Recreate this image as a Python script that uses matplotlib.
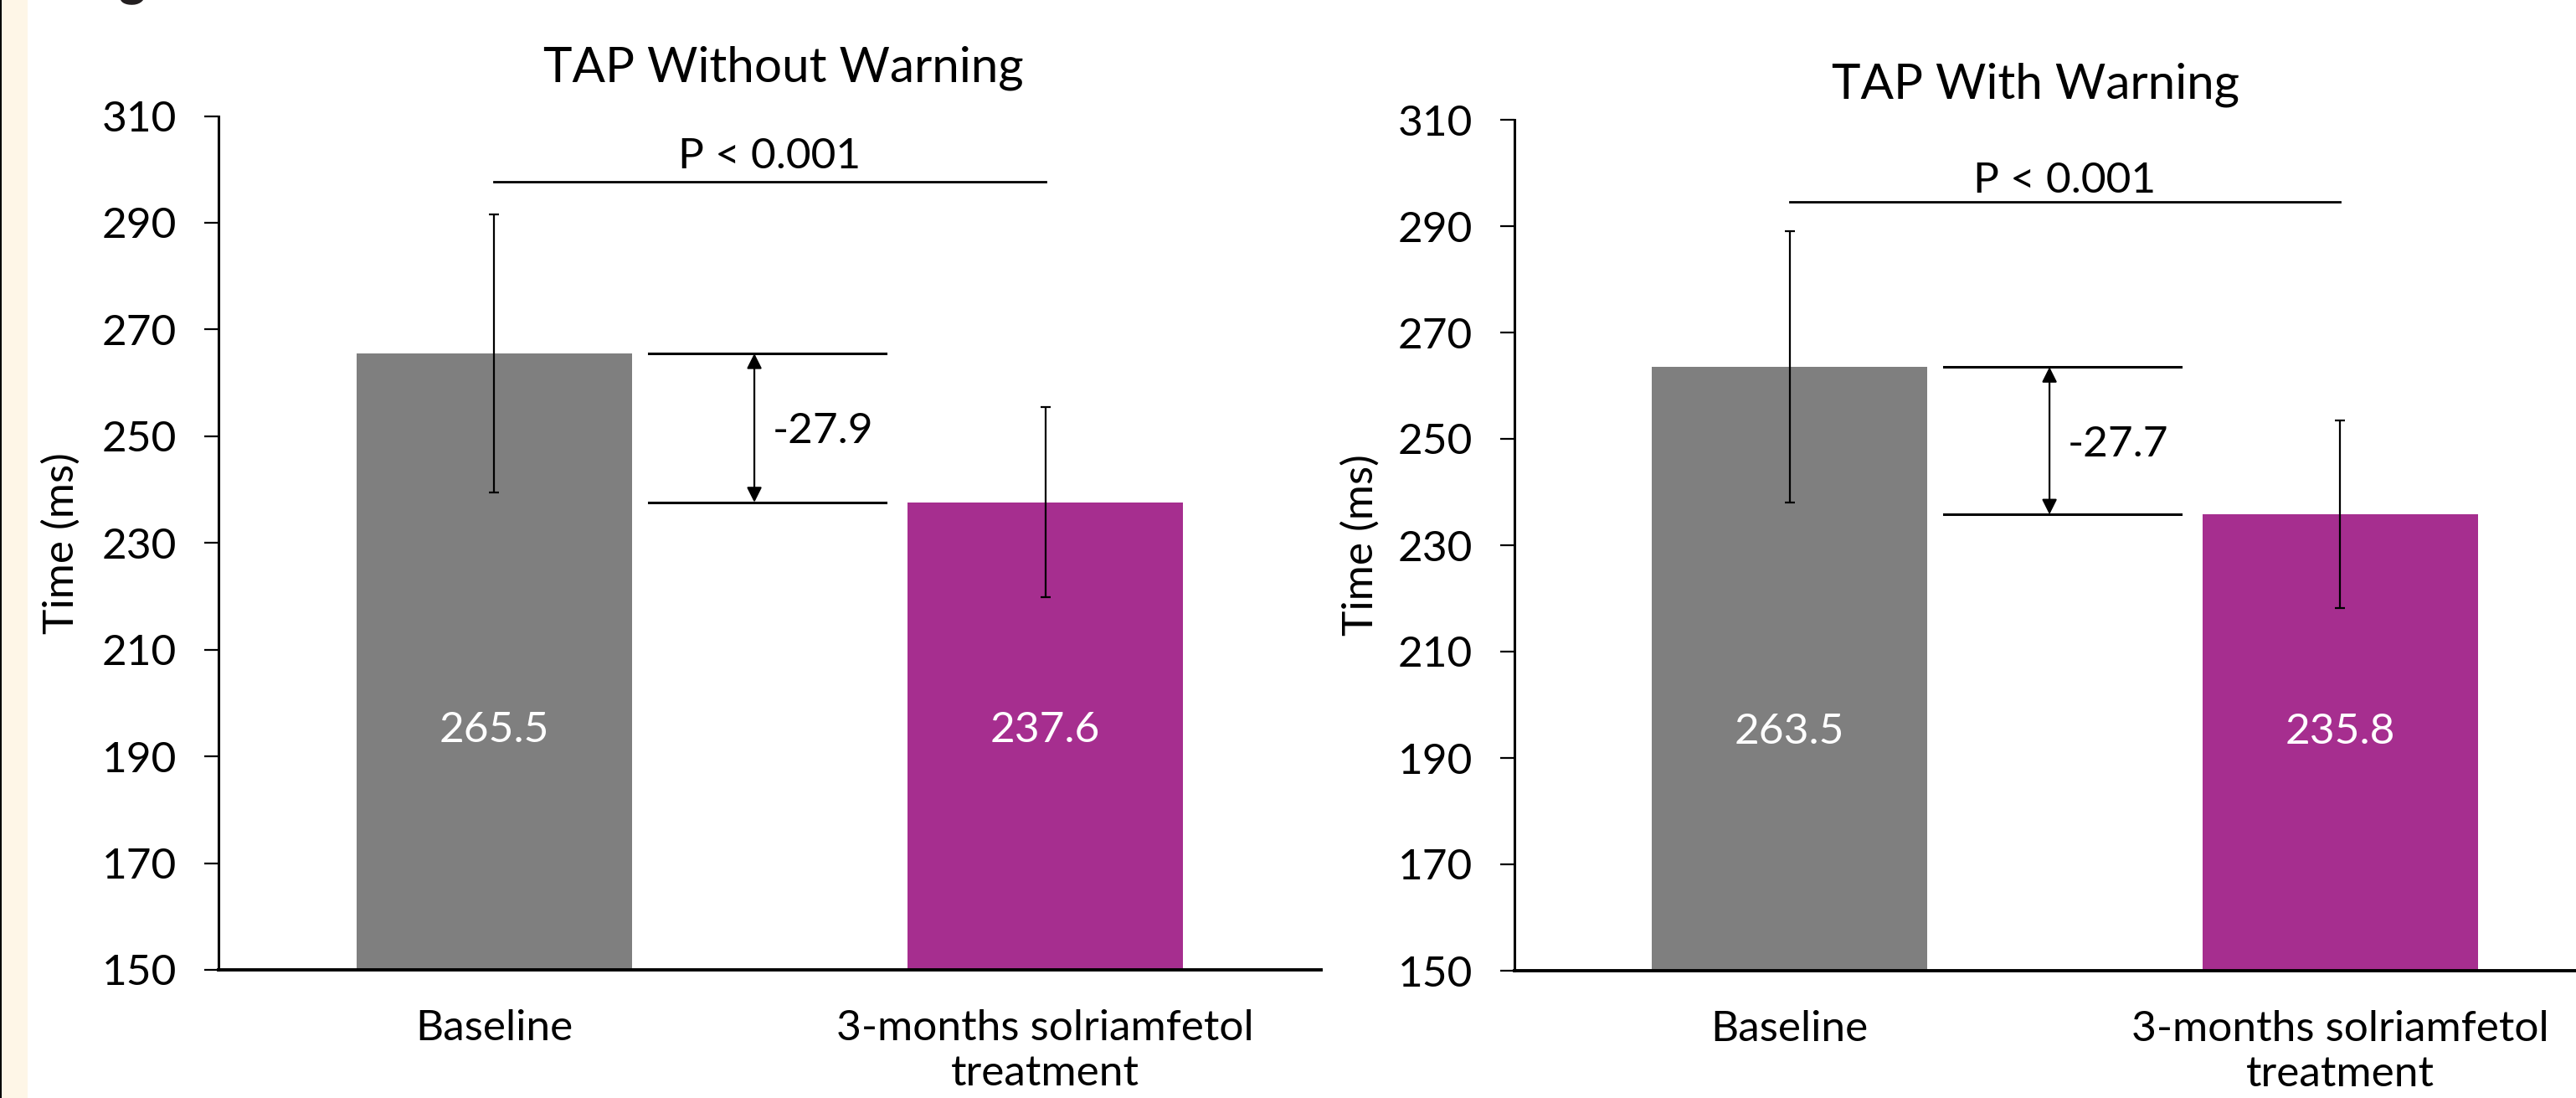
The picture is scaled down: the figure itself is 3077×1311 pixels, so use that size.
import matplotlib
matplotlib.use("Agg")
import matplotlib.pyplot as plt
from matplotlib.patches import Rectangle

# ---- data -------------------------------------------------------------
categories = ["Baseline", "3-months solriamfetol\ntreatment"]
panel_titles = ["TAP Without Warning", "TAP With Warning"]
means_without = [265.5, 237.6]
errors_without = [26.0, 17.8]
means_with = [263.5, 235.8]
errors_with = [25.5, 17.6]
differences = [-27.9, -27.7]
p_labels = ["P < 0.001", "P < 0.001"]
y_ticks = [150, 170, 190, 210, 230, 250, 270, 290, 310]
bar_colors = ["#7F7F7F", "#A62E8F"]

# ---- figure ------------------------------------------------------------
W, H = 3077, 1311
DPI = 100
plt.rcParams["font.family"] = ["Lato", "DejaVu Sans"]
fig = plt.figure(figsize=(W / DPI, H / DPI), dpi=DPI, facecolor="white")

# cream strip at the left edge of the page
fig.patches.append(Rectangle((0, 0), 33 / W, 1, transform=fig.transFigure,
                             facecolor="#FEF6E7", edgecolor="none", zorder=-2))
fig.patches.append(Rectangle((0, 0), 2 / W, 1, transform=fig.transFigure,
                             facecolor="black", edgecolor="none", zorder=-1))
fig.text(158 / W, 1 + 7 / H, "g", fontsize=44, fontweight="bold",
         color="#231F20", ha="center", va="baseline")


def px_axes(x0, x1, y_top, y_bottom):
    return [x0 / W, 1 - y_bottom / H, (x1 - x0) / W, (y_bottom - y_top) / H]


panels = [
    dict(rect=px_axes(261, 1578, 138.5, 1158), means=means_without,
         errors=errors_without, diff=differences[0], p=p_labels[0],
         title=panel_titles[0], title_xy=(936, 98),
         p_line=297.7, p_text=300.2, ylabel_x=-0.125),
    dict(rect=px_axes(1809, 3124, 143, 1159), means=means_with,
         errors=errors_with, diff=differences[1], p=p_labels[1],
         title=panel_titles[1], title_xy=(2432, 118),
         p_line=294.5, p_text=296.3, ylabel_x=-0.122),
]

FS = 37
x = [0, 1]
for pan in panels:
    ax = fig.add_axes(pan["rect"])
    ax.bar(x, pan["means"], width=0.5, color=bar_colors, zorder=2)
    ax.errorbar(x, pan["means"], yerr=pan["errors"], fmt="none",
                ecolor="black", elinewidth=1.6, capsize=4, capthick=1.6,
                zorder=3)
    ax.set_xlim(-0.5, 1.5)
    ax.set_ylim(150, 310)
    ax.set_yticks(y_ticks)
    ax.set_xticks(x)
    ax.set_xticklabels(categories, fontsize=FS, linespacing=1.2)
    ax.tick_params(axis="x", length=0, pad=34)
    ax.tick_params(axis="y", direction="out", length=12, width=1.6,
                   labelsize=FS, pad=24)
    for s in ("top", "right"):
        ax.spines[s].set_visible(False)
    ax.spines["left"].set_linewidth(2.2)
    ax.spines["bottom"].set_linewidth(2.8)
    ax.set_ylabel("Time (ms)", fontsize=FS)
    ax.yaxis.set_label_coords(pan["ylabel_x"], 0.5)

    # value labels inside the bars
    for xi, m in zip(x, pan["means"]):
        ax.text(xi, 192.7, f"{m:.1f}", color="white", fontsize=FS,
                ha="center", va="baseline", zorder=4)

    # significance bracket
    ax.plot([0, 1], [pan["p_line"]] * 2, color="black", lw=2, zorder=3)
    ax.text(0.5, pan["p_text"], pan["p"], fontsize=FS, ha="center",
            va="baseline")

    # difference marker between the two bar heights
    hi, lo = pan["means"]
    for yv in (hi, lo):
        ax.plot([0.28, 0.71], [yv, yv], color="black", lw=2.2, zorder=3)
    ax.annotate("", xy=(0.472, hi), xytext=(0.472, lo),
                arrowprops=dict(arrowstyle="<|-|>,head_length=0.4,head_width=0.2",
                                mutation_scale=27, lw=1.6, color="black",
                                shrinkA=0, shrinkB=0))
    ax.text(0.505, (hi + lo) / 2, f"{pan['diff']:.1f}", fontsize=FS,
            ha="left", va="center_baseline")

    fig.text(pan["title_xy"][0] / W, 1 - pan["title_xy"][1] / H,
             pan["title"], fontsize=42, ha="center", va="baseline")

fig.savefig("out.png", dpi=DPI, facecolor="white")
